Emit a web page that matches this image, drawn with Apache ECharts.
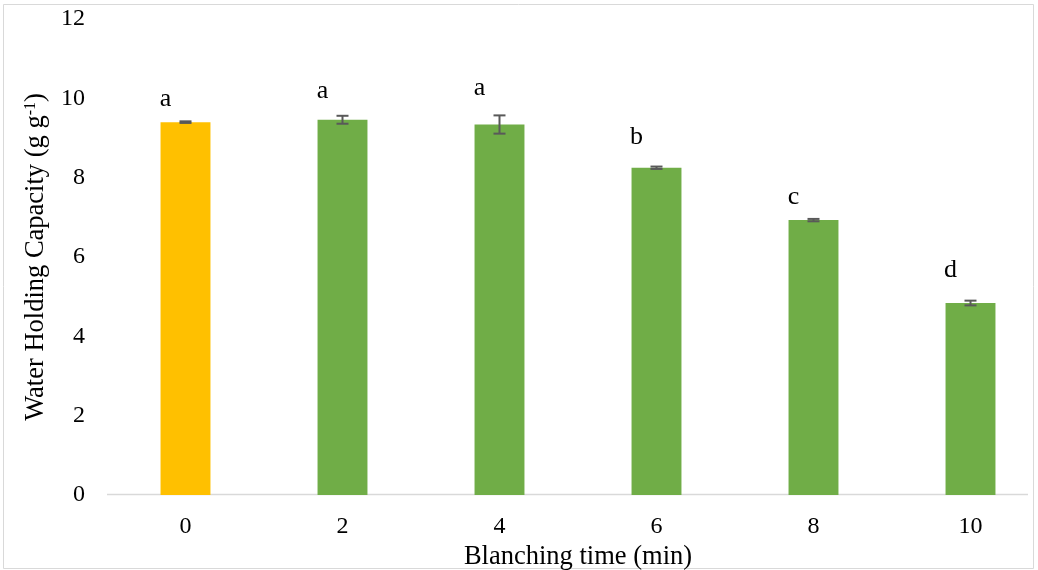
<!DOCTYPE html>
<html>
<head>
<meta charset="utf-8">
<script src="https://cdn.jsdelivr.net/npm/echarts@6/dist/echarts.min.js"></script>
<style>
html,body{margin:0;padding:0;background:#fff;}
#chart{width:1038px;height:570px;}
</style>
</head>
<body>
<div id="chart"></div>
<script>
var categories = ['0', '2', '4', '6', '8', '10'];
var values = [9.40, 9.46, 9.34, 8.25, 6.93, 4.84];
var errors = [0.02, 0.10, 0.23, 0.03, 0.03, 0.06];
var letters = ['a', 'a', 'a', 'b', 'c', 'd'];
var letterY = [9.97, 10.18, 10.25, 9.01, 7.52, 5.67];
var barColors = ['#FFC000', '#70AD47', '#70AD47', '#70AD47', '#70AD47', '#70AD47'];
var yTicks = [0, 2, 4, 6, 8, 10, 12];

var FONT = '"Liberation Serif", "Times New Roman", serif';
var chart = echarts.init(document.getElementById('chart'), null, {renderer: 'canvas'});

var barData = values.map(function (v, i) {
  return {value: v, itemStyle: {color: barColors[i]}};
});
var errData = values.map(function (v, i) { return [i, v - errors[i], v + errors[i]]; });
var letterData = letters.map(function (l, i) { return [i, letterY[i], l]; });

var option = {
  animation: false,
  backgroundColor: '#fff',
  graphic: [{
    type: 'rect', silent: true, z: -10,
    shape: {x: 3.5, y: 4.5, width: 1030, height: 564},
    style: {fill: 'none', stroke: '#d9d9d9', lineWidth: 1}
  }, {
    type: 'line', silent: true, z: -5,
    shape: {x1: 107, y1: 494.5, x2: 1028, y2: 494.5},
    style: {stroke: '#d9d9d9', lineWidth: 1.5}
  }],
  grid: {left: 107, right: -11, top: 19, bottom: 75, containLabel: false, outerBoundsMode: 'none'},
  xAxis: {
    type: 'category',
    data: categories,
    name: 'Blanching time (min)',
    nameLocation: 'middle',
    nameGap: 42,
    nameTextStyle: {fontFamily: FONT, fontSize: 26.5, color: '#000'},
    axisLine: {show: false},
    axisTick: {show: false},
    axisLabel: {fontFamily: FONT, fontSize: 24, color: '#000', margin: 20}
  },
  yAxis: {
    type: 'value',
    min: 0, max: 12, interval: 2,
    name: '{n|Water Holding Capacity (g g}{s|-1}{n|)}',
    nameLocation: 'middle',
    nameGap: 57,
    nameTextStyle: {
      rich: {
        n: {fontFamily: FONT, fontSize: 26.5, color: '#000'},
        s: {fontFamily: FONT, fontSize: 16, color: '#000', verticalAlign: 'top', padding: [0, 0, 11, 0]}
      }
    },
    axisLine: {show: false},
    axisTick: {show: false},
    splitLine: {show: false},
    axisLabel: {
      fontFamily: FONT, fontSize: 24, color: '#000', margin: 22,
      formatter: function (v) { return yTicks.indexOf(v) >= 0 ? String(v) : ''; }
    }
  },
  series: [
    {
      type: 'bar',
      data: barData,
      barWidth: '31.8%',
      z: 2
    },
    {
      type: 'custom',
      z: 5,
      data: errData,
      renderItem: function (params, api) {
        var i = api.value(0);
        var lo = api.coord([i, api.value(1)]);
        var hi = api.coord([i, api.value(2)]);
        var hw = 6;
        var st = {stroke: '#595959', lineWidth: 2};
        return {
          type: 'group',
          children: [
            {type: 'line', shape: {x1: lo[0], y1: lo[1], x2: hi[0], y2: hi[1]}, style: st},
            {type: 'line', shape: {x1: lo[0] - hw, y1: lo[1], x2: lo[0] + hw, y2: lo[1]}, style: st},
            {type: 'line', shape: {x1: hi[0] - hw, y1: hi[1], x2: hi[0] + hw, y2: hi[1]}, style: st}
          ]
        };
      }
    },
    {
      type: 'custom',
      z: 6,
      data: letterData,
      renderItem: function (params, api) {
        var p = api.coord([api.value(0), api.value(1)]);
        return {
          type: 'text',
          x: p[0] - 20, y: p[1],
          style: {
            text: letters[params.dataIndex],
            fontFamily: FONT, fontSize: 26, fill: '#000',
            textAlign: 'center', textVerticalAlign: 'middle'
          }
        };
      }
    }
  ]
};
chart.setOption(option);
</script>
</body>
</html>
